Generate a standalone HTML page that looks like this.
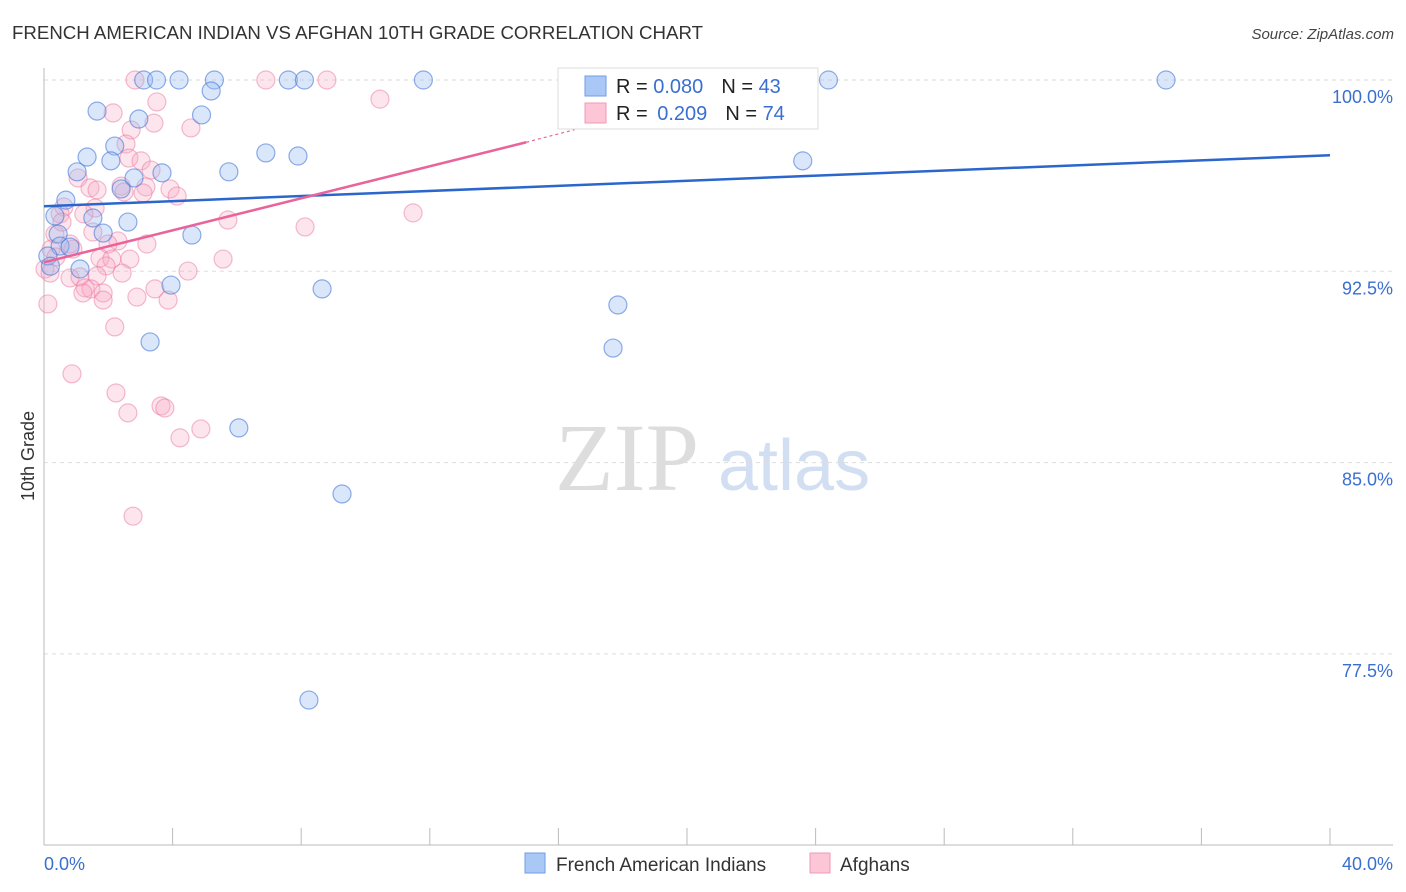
<!DOCTYPE html>
<html><head><meta charset="utf-8"><style>
body{margin:0;background:#fff;font-family:"Liberation Sans",sans-serif}
svg{display:block}
</style></head><body>
<svg width="1406" height="892" xmlns="http://www.w3.org/2000/svg" font-family="Liberation Sans, sans-serif">
<text x="12" y="39" font-size="18" fill="#333" textLength="691" lengthAdjust="spacingAndGlyphs">FRENCH AMERICAN INDIAN VS AFGHAN 10TH GRADE CORRELATION CHART</text>
<text x="1394" y="39" font-size="15" fill="#444" text-anchor="end" font-style="italic">Source: ZipAtlas.com</text>
<g><text x="555" y="490" font-size="96" fill="#ddd" font-family="Liberation Serif, serif">ZIP</text><text x="718" y="490" font-size="72" fill="#d2dff2">atlas</text></g>
<g id="grid"></g>
<g id="axes"></g>
<g id="pts"></g>
<g id="lines"></g>
<text transform="translate(34,456) rotate(-90)" font-size="18" fill="#333" text-anchor="middle">10th Grade</text>
<g>
<rect x="558" y="68" width="260" height="61" fill="#fff" stroke="#ddd"/>
<rect x="585" y="76" width="21" height="20" fill="#aac8f5" stroke="#6f9ee6"/>
<rect x="585" y="103" width="21" height="20" fill="#fcc6d6" stroke="#f09ab5"/>
<text x="616" y="93" font-size="20" fill="#222">R = <tspan fill="#3a6fd0">0.080</tspan><tspan dx="18">N = </tspan><tspan fill="#3a6fd0">43</tspan></text>
<text x="616" y="120" font-size="20" fill="#222">R = <tspan fill="#3a6fd0" dx="4">0.209</tspan><tspan dx="18">N = </tspan><tspan fill="#3a6fd0">74</tspan></text>
</g>
<g>
<rect x="525" y="853" width="20" height="20" fill="#aac8f5" stroke="#6f9ee6"/>
<text x="556" y="871" font-size="19" fill="#333">French American Indians</text>
<rect x="810" y="853" width="20" height="20" fill="#fcc6d6" stroke="#f09ab5"/>
<text x="840" y="871" font-size="19" fill="#333">Afghans</text>
</g>
</svg>
<script>
const xTicks=[0,4,8,12,16,20,24,28,32,36,40];
const yTicks=[100,92.5,85,77.5];
const yTickLabels=["100.0%","92.5%","85.0%","77.5%"];
const blueX=[3.1,3.5,4.2,5.3,7.6,8.1,11.8,16.9,24.4,34.9,5.2,1.65,4.9,2.95,2.2,6.9,7.9,1.34,2.08,23.6,1.03,3.67,5.75,2.8,2.4,0.68,0.34,1.52,2.61,0.44,1.84,4.6,0.5,0.81,0.12,1.12,3.95,8.65,17.85,17.7,3.3,6.06,9.27,8.24,0.2];
const blueY=[100,100,100,100,100,100,100,100,100,100,99.57,98.78,98.63,98.47,97.41,97.14,97.02,96.98,96.83,96.83,96.4,96.36,96.4,96.16,95.73,95.29,94.67,94.59,94.43,93.96,94.0,93.92,93.49,93.45,93.1,92.59,91.96,91.81,91.18,89.49,89.73,86.36,83.77,75.69,92.7];
const pinkX=[2.83,6.9,8.8,10.45,2.15,3.51,3.42,4.57,2.71,2.55,2.64,3.02,3.33,1.06,1.43,1.65,2.4,3.17,3.08,3.92,4.14,2.49,0.62,1.59,0.5,1.24,5.72,11.48,8.12,1.52,2.3,3.2,1.99,0.9,0.22,0.37,1.74,2.11,2.67,5.57,1.93,0.03,0.19,4.48,2.43,0.81,1.12,1.65,1.28,1.46,1.84,1.21,3.45,2.89,3.86,1.84,0.12,2.2,0.87,2.24,2.61,3.64,3.76,4.23,4.88,2.77,0.34,0.56,0.81];
const pinkY=[100,100,100,99.25,98.71,99.14,98.31,98.12,98.04,97.49,96.94,96.83,96.47,96.16,95.77,95.69,95.84,95.81,95.57,95.73,95.45,95.61,95.02,94.98,94.75,94.75,94.51,94.79,94.24,94.04,93.69,93.57,93.57,93.37,93.37,93.06,93.02,92.98,92.98,92.98,92.71,92.59,92.43,92.51,92.43,92.24,92.28,92.32,91.85,91.81,91.65,91.65,91.81,91.49,91.37,91.37,91.22,90.32,88.48,87.73,86.95,87.22,87.14,85.97,86.32,82.9,93.96,94.43,93.57];
const blueLine=[[0,95.05],[40,97.05]];
const pinkLine=[[0,92.85],[15,97.56]];
const pinkDash=[[15,97.56],[16.5,98.05]];
const X=v=>44+v/40*1286, Y=v=>80+(100-v)/7.5*191.3;
const NS="http://www.w3.org/2000/svg";
function mk(p,t,a){const e=document.createElementNS(NS,t);for(const k in a)e.setAttribute(k,a[k]);p.appendChild(e);return e;}
const grid=document.getElementById('grid'),axes=document.getElementById('axes'),pts=document.getElementById('pts'),lines=document.getElementById('lines');
yTicks.forEach((t,i)=>{
 const g=mk(grid,'line',{x1:44,x2:1393,y1:Y(t),y2:Y(t),stroke:'#ddd','stroke-dasharray':'4,4'});
 
 
 const tx=mk(grid,'text',{x:1393,y:Y(t)+23,'font-size':18,fill:'#3a6fd0','text-anchor':'end'});
 tx.textContent=yTickLabels[i];
 
 
});
const ya=mk(axes,'line',{x1:44,x2:44,y1:68,y2:845,stroke:'#bbb'});


const xa=mk(axes,'line',{x1:44,x2:1393,y1:845,y2:845,stroke:'#bbb'});


xTicks.forEach(t=>{
 const l=mk(axes,'line',{x1:X(t),x2:X(t),y1:828,y2:845,stroke:'#bbb'});
 
 
});
[[0,"0.0%",'start',44],[40,"40.0%",'end',1393]].forEach(d=>{
 const tx=mk(axes,'text',{x:d[3],y:870,'font-size':18,fill:'#3a6fd0','text-anchor':d[2]});
 tx.textContent=d[1];
 
 
});
pinkX.forEach((x,i)=>{
 const c=mk(pts,'circle',{cx:X(x),cy:Y(pinkY[i]),r:9,fill:'rgba(248,170,195,0.3)',stroke:'rgba(235,120,160,0.5)','stroke-width':1.2});
 
 
});
blueX.forEach((x,i)=>{
 const c=mk(pts,'circle',{cx:X(x),cy:Y(blueY[i]),r:9,fill:'rgba(150,185,240,0.35)',stroke:'rgba(70,120,215,0.6)','stroke-width':1.2});
 
 
});
const bl=mk(lines,'line',{x1:X(blueLine[0][0]),y1:Y(blueLine[0][1]),x2:X(blueLine[1][0]),y2:Y(blueLine[1][1]),stroke:'#2a66cc','stroke-width':2.5});


const pl=mk(lines,'line',{x1:X(pinkLine[0][0]),y1:Y(pinkLine[0][1]),x2:X(pinkLine[1][0]),y2:Y(pinkLine[1][1]),stroke:'#e8649a','stroke-width':2.5});


const pd=mk(lines,'line',{x1:X(pinkDash[0][0]),y1:Y(pinkDash[0][1]),x2:X(pinkDash[1][0]),y2:Y(pinkDash[1][1]),stroke:'#e8649a','stroke-width':1.2,'stroke-dasharray':'3,3'});


</script>
</body></html>
